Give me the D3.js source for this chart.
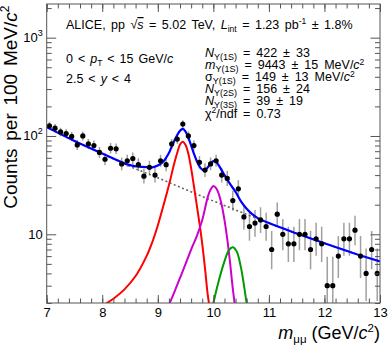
<!DOCTYPE html>
<html>
<head>
<meta charset="utf-8">
<script src="https://cdn.jsdelivr.net/npm/d3@7"></script>
<style>
  html, body { margin: 0; padding: 0; background: #fff; }
  svg { display: block; font-family: "Liberation Sans", Arial, sans-serif; }
</style>
</head>
<body>
<div id="vis"></div>
<script>
// data (counts per 100 MeV bin, 7.0-13.0 GeV/c2)
var binCenters = d3.range(60).map(function(i) { return +(7.05 + i * 0.1).toFixed(2); });
var counts = [127, 120, 110, 106, 99, 81, 100, 83, 80, 68,
              58, 75, 74, 52, 56, 59, 51, 39, 48, 40,
              56, 51, 83, 93, 132, 100, 80, 54, 45, 52,
              56, 40, 37, 22, 29, 15, 12, 13, 14, 12,
              7, 16, 10, 8, 8, 10, 10, 7, 9, 8,
              3, 3, 6, 9, 9, 11, 6, 4, 7, 4];
// asymmetric (poisson) errors
var errLow = [11.26, 10.94, 10.48, 10.28, 9.94, 8.99, 9.99, 9.1, 8.93, 8.23,
              7.6, 8.65, 8.59, 7.19, 7.47, 7.66, 7.12, 6.22, 6.91, 6.3,
              7.47, 7.12, 9.1, 9.63, 11.48, 9.99, 8.93, 7.33, 6.69, 7.19,
              7.47, 6.3, 6.06, 4.66, 5.36, 3.84, 3.43, 3.57, 3.71, 3.43,
              2.58, 3.97, 3.11, 2.78, 2.78, 3.11, 3.11, 2.58, 2.94, 2.78,
              1.63, 1.63, 2.4, 2.94, 2.94, 3.28, 2.4, 1.91, 2.58, 1.91];
var errHigh = [12.3, 11.99, 11.52, 11.33, 10.99, 10.04, 11.04, 10.15, 9.99, 9.29,
               8.66, 9.7, 9.65, 8.26, 8.53, 8.73, 8.19, 7.3, 7.98, 7.38,
               8.53, 8.19, 10.15, 10.68, 12.52, 11.04, 9.99, 8.4, 7.76, 8.26,
               8.53, 7.38, 7.14, 5.77, 6.45, 4.97, 4.57, 4.71, 4.84, 4.57,
               3.77, 5.09, 4.27, 3.95, 3.95, 4.27, 4.27, 3.77, 4.11, 3.95,
               2.92, 2.92, 3.58, 4.11, 4.11, 4.43, 3.58, 3.16, 3.77, 3.16];

// fit curves sampled from the figure: [mass, counts]
var fitTotal = [[7.0, 123], [7.5, 89], [8.0, 66.5], [8.5, 50.5], [8.7, 48.5], [8.9, 48],
                [9.0, 50], [9.1, 55], [9.2, 67], [9.25, 78], [9.3, 90], [9.35, 102], [9.4, 113],
                [9.45, 118], [9.5, 111], [9.55, 96], [9.6, 80], [9.65, 66], [9.7, 56],
                [9.75, 49], [9.8, 45.5], [9.85, 45], [9.9, 48], [9.95, 52.5], [10.0, 55.5],
                [10.05, 54.5], [10.1, 50], [10.2, 40], [10.3, 32.5], [10.4, 27], [10.5, 21.5],
                [10.6, 18.2], [10.7, 16], [10.8, 14.6], [11.0, 13], [11.5, 10.2], [12.0, 8.1],
                [12.5, 6.5], [13.0, 5.3]];
var fitBkg = [[7.0, 123], [7.5, 89], [8.0, 66], [8.5, 49], [9.0, 37.5], [9.5, 28.5],
              [10.0, 21.8], [10.5, 16.8], [11.0, 13.0], [11.5, 10.2], [12.0, 8.1],
              [12.5, 6.5], [13.0, 5.3]];
var fit1S = [[7.9, 1.7], [8.0, 1.86], [8.2, 2.21], [8.4, 2.75], [8.6, 3.76], [8.8, 6.03],
             [8.9, 8.3], [9.0, 12.3], [9.1, 19.5], [9.2, 31.6], [9.3, 53.7], [9.35, 67.6],
             [9.4, 82], [9.45, 87.5], [9.5, 81], [9.55, 66], [9.6, 47], [9.65, 31], [9.7, 20],
             [9.75, 13], [9.8, 8], [9.85, 4.5], [9.9, 2.4], [9.95, 1.6]];
var fit2S = [[9.18, 1.8], [9.3, 2.6], [9.4, 3.6], [9.5, 5.0], [9.6, 7.0], [9.7, 9.5],
             [9.8, 14], [9.9, 24], [9.95, 28.5], [10.0, 31], [10.05, 29.5], [10.1, 25.5],
             [10.15, 20], [10.2, 14], [10.25, 9], [10.3, 5.2], [10.35, 2.8], [10.4, 1.7]];
var fit3S = [[9.97, 1.7], [10.0, 2.0], [10.1, 3.4], [10.2, 5.3], [10.28, 6.9], [10.35, 7.4],
             [10.42, 6.7], [10.5, 4.5], [10.56, 2.8], [10.6, 2.0], [10.63, 1.7]];

var xMajor = [7, 8, 9, 10, 11, 12, 13];
var yMajor = [10, 100, 1000];

var fitLines = [
  {name: 'bkg', pts: fitBkg, color: '#666', width: 1.6, dash: '2,2.5'},
  {name: '1S', pts: fit1S, color: '#ff0000', width: 2, dash: null},
  {name: '2S', pts: fit2S, color: '#cc00cc', width: 2, dash: null},
  {name: '3S', pts: fit3S, color: '#009900', width: 2, dash: null},
  {name: 'total', pts: fitTotal, color: '#0000ff', width: 2.2, dash: null}
];

var width = 390, height = 349;
var plotL = 46.7, plotR = 380, plotT = 4, plotB = 303;

var svg = d3.select('#vis').append('svg')
    .attr('width', width)
    .attr('height', height);

var x = d3.scaleLinear().domain([7, 13]).range([plotL, plotR]);
var y = d3.scaleLog().domain([2, 2200]).range([plotB, plotT]);

svg.append('clipPath').attr('id', 'plotclip')
  .append('rect')
    .attr('x', plotL).attr('y', plotT)
    .attr('width', plotR - plotL).attr('height', plotB - plotT);

var plot = svg.append('g').attr('clip-path', 'url(#plotclip)');

// error bars
plot.selectAll('line.err')
    .data(counts)
  .enter().append('line')
    .attr('class', 'err')
    .attr('x1', function(d, i) { return x(binCenters[i]); })
    .attr('x2', function(d, i) { return x(binCenters[i]); })
    .attr('y1', function(d, i) { return y(Math.max(d - errLow[i], 1)); })
    .attr('y2', function(d, i) { return y(d + errHigh[i]); })
    .attr('stroke', '#a0a0a0')
    .attr('stroke-width', 1.5);

// fit curves
var line = d3.line()
    .x(function(d) { return x(d[0]); })
    .y(function(d) { return y(d[1]); })
    .curve(d3.curveCatmullRom);

fitLines.forEach(function(f) {
  plot.append('path')
      .attr('d', line(f.pts))
      .attr('fill', 'none')
      .attr('stroke', f.color)
      .attr('stroke-width', f.width)
      .attr('stroke-dasharray', f.dash);
});

// markers
plot.selectAll('circle.pt')
    .data(counts)
  .enter().append('circle')
    .attr('class', 'pt')
    .attr('cx', function(d, i) { return x(binCenters[i]); })
    .attr('cy', function(d) { return y(d); })
    .attr('r', 2.6)
    .attr('fill', '#000');

// axes, ticks drawn inside the frame
var xMinor = d3.range(7, 13.001, 0.2).map(function(v) { return +v.toFixed(1); });
var yMinor = [];
[1, 10, 100, 1000].forEach(function(dec) {
  for (var k = 2; k <= 9; k++) {
    var v = dec * k;
    if (v >= 2 && v <= 2200) yMinor.push(v);
  }
});

var axisColor = '#555';
function styleAxis(g) {
  g.select('.domain').remove();
  g.selectAll('line').attr('stroke', axisColor);
  g.selectAll('text').attr('fill', '#000').attr('font-size', 13)
      .attr('font-family', '"Liberation Sans", Arial, sans-serif');
}

svg.append('g').attr('transform', 'translate(0,' + plotB + ')')
    .call(d3.axisBottom(x).tickValues(xMinor).tickSize(-4.5).tickFormat(''))
    .call(styleAxis);
svg.append('g').attr('transform', 'translate(0,' + plotB + ')')
    .call(d3.axisBottom(x).tickValues(xMajor).tickSize(-8).tickPadding(5).tickFormat(d3.format('d')))
    .call(styleAxis);
svg.append('g').attr('transform', 'translate(0,' + plotT + ')')
    .call(d3.axisTop(x).tickValues(xMinor).tickSize(-4.5).tickFormat(''))
    .call(styleAxis);
svg.append('g').attr('transform', 'translate(0,' + plotT + ')')
    .call(d3.axisTop(x).tickValues(xMajor).tickSize(-8).tickFormat(''))
    .call(styleAxis);

svg.append('g').attr('transform', 'translate(' + plotL + ',0)')
    .call(d3.axisLeft(y).tickValues(yMinor).tickSize(-5).tickFormat(''))
    .call(styleAxis);
svg.append('g').attr('transform', 'translate(' + plotL + ',0)')
    .call(d3.axisLeft(y).tickValues(yMajor).tickSize(-9.5).tickFormat(''))
    .call(styleAxis);
svg.append('g').attr('transform', 'translate(' + plotR + ',0)')
    .call(d3.axisRight(y).tickValues(yMinor).tickSize(-5).tickFormat(''))
    .call(styleAxis);
svg.append('g').attr('transform', 'translate(' + plotR + ',0)')
    .call(d3.axisRight(y).tickValues(yMajor).tickSize(-9.5).tickFormat(''))
    .call(styleAxis);

// y tick labels 10, 10^2, 10^3
var yLab = svg.append('g').attr('font-size', 13).attr('text-anchor', 'end');
yMajor.forEach(function(v) {
  var t = yLab.append('text')
      .attr('x', plotL - 4)
      .attr('y', y(v) + 4.5);
  var p = Math.round(Math.log10(v));
  if (p === 1) {
    t.text('10');
  } else {
    t.append('tspan').text('10');
    t.append('tspan').attr('font-size', 9).attr('dy', -6).text(p);
  }
});

// frame
svg.append('rect')
    .attr('x', plotL).attr('y', plotT)
    .attr('width', plotR - plotL).attr('height', plotB - plotT)
    .attr('fill', 'none')
    .attr('stroke', axisColor)
    .attr('stroke-width', 1);

// axis titles
var xt = svg.append('text')
    .attr('x', plotR).attr('y', 339)
    .attr('text-anchor', 'end')
    .attr('font-size', 18);
xt.append('tspan').attr('font-style', 'italic').text('m');
xt.append('tspan').attr('font-size', 11.5).attr('dy', 4).text('μμ');
xt.append('tspan').attr('dy', -4).text(' (GeV/');
xt.append('tspan').attr('font-style', 'italic').text('c');
xt.append('tspan').attr('font-size', 11.5).attr('dy', -7).text('2');
xt.append('tspan').attr('dy', 7).text(')');

var yt = svg.append('text')
    .attr('transform', 'translate(17,' + (plotT + 1.5) + ') rotate(-90)')
    .attr('text-anchor', 'end')
    .attr('word-spacing', 2.5)
    .attr('font-size', 19);
yt.append('tspan').text('Counts per 100 MeV/');
yt.append('tspan').attr('font-style', 'italic').text('c');
yt.append('tspan').attr('font-size', 12).attr('dy', -8).text('2');

// legend texts
var info = svg.append('g').attr('font-size', 12.5);
var t1 = info.append('text').attr('x', 66).attr('y', 29).attr('word-spacing', 2);
t1.append('tspan').text('ALICE, pp ');
t1.append('tspan').text('√');
t1.append('tspan').attr('font-style', 'italic').attr('text-decoration', 'overline').text('s');
t1.append('tspan').text(' = 5.02 TeV, ');
t1.append('tspan').attr('font-style', 'italic').text('L');
t1.append('tspan').attr('font-size', 8.5).attr('dy', 3).text('int');
t1.append('tspan').attr('dy', -3).text(' = 1.23 pb');
t1.append('tspan').attr('font-size', 8.5).attr('dy', -5).text('-1');
t1.append('tspan').attr('dy', 5).text(' ± 1.8%');

var t2 = info.append('text').attr('x', 66).attr('y', 63).attr('word-spacing', 1.5);
t2.append('tspan').text('0 < ');
t2.append('tspan').attr('font-style', 'italic').text('p');
t2.append('tspan').attr('font-size', 8.5).attr('dy', 3).text('T');
t2.append('tspan').attr('dy', -3).text(' < 15 GeV/');
t2.append('tspan').attr('font-style', 'italic').text('c');

var t3 = info.append('text').attr('x', 66).attr('y', 83).attr('word-spacing', 1.5);
t3.append('tspan').text('2.5 < ');
t3.append('tspan').attr('font-style', 'italic').text('y');
t3.append('tspan').text(' < 4');

var fitInfo = [
  {sym: 'N', italic: true, sub: 'Υ(1S)', rest: ' = 422 ± 33', sup: null},
  {sym: 'm', italic: true, sub: 'Υ(1S)', rest: ' = 9443 ± 15 MeV/', sup: '2'},
  {sym: 'σ', italic: false, sub: 'Υ(1S)', rest: ' = 149 ± 13 MeV/', sup: '2'},
  {sym: 'N', italic: true, sub: 'Υ(2S)', rest: ' = 156 ± 24', sup: null},
  {sym: 'N', italic: true, sub: 'Υ(3S)', rest: ' = 39 ± 19', sup: null}
];
fitInfo.forEach(function(r, i) {
  var t = info.append('text').attr('x', 205).attr('y', 57 + i * 12.1)
      .attr('font-size', 12.5).attr('word-spacing', 2.5);
  t.append('tspan').attr('font-style', r.italic ? 'italic' : null).text(r.sym);
  t.append('tspan').attr('font-size', 9).attr('dy', 2.5).text(r.sub);
  t.append('tspan').attr('dy', -2.5).text(r.rest);
  if (r.sup) {
    t.append('tspan').attr('font-style', 'italic').text('c');
    t.append('tspan').attr('font-size', 8.5).attr('dy', -4.5).text(r.sup);
  }
});
var tc = info.append('text').attr('x', 205).attr('y', 57 + 5 * 12.1)
    .attr('font-size', 12.5).attr('word-spacing', 2.5);
tc.append('tspan').text('χ');
tc.append('tspan').attr('font-size', 8.5).attr('dy', -4.5).text('2');
tc.append('tspan').attr('dy', 4.5).text('/ndf = 0.73');
</script>
</body>
</html>
